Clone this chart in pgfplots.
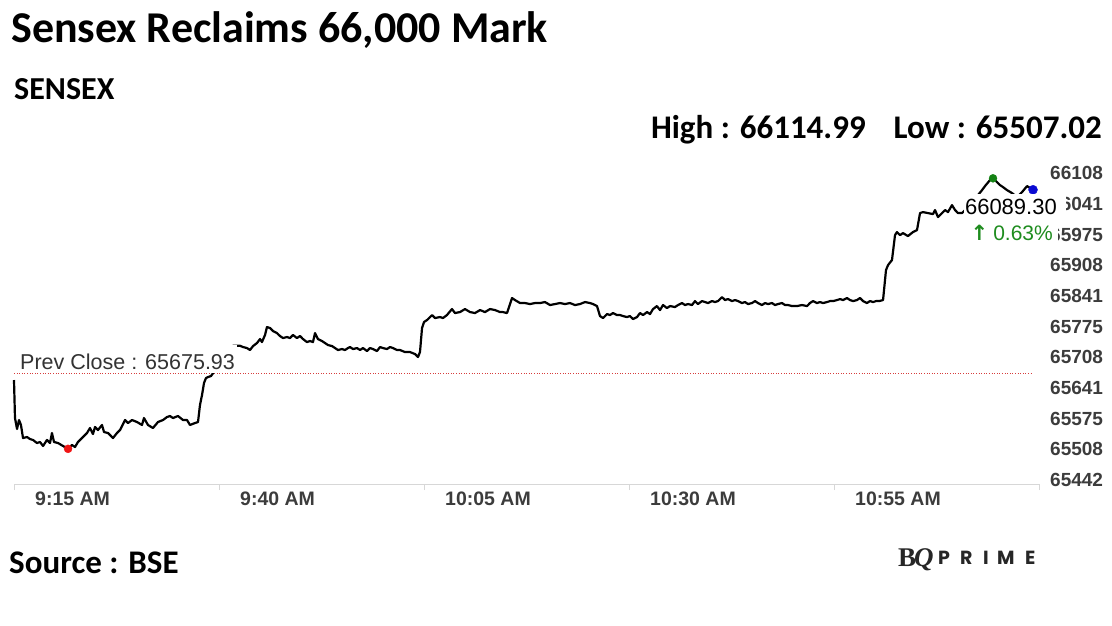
\documentclass[border=0pt]{standalone}
\usepackage{pgfplots}
\pgfplotsset{compat=1.18}
\usepackage{fontspec}
\setmainfont{Carlito}
\newfontfamily\arialf{Liberation Sans}
\newfontfamily\poppins{Poppins}
\newfontfamily\timesf{Liberation Serif}
\newfontfamily\dejavu{DejaVu Sans}
\definecolor{tickgray}{RGB}{60,60,60}
\definecolor{upgreen}{RGB}{30,140,30}
\definecolor{prevred}{RGB}{215,60,60}
\definecolor{axgray}{RGB}{215,215,215}
\definecolor{lowred}{RGB}{240,20,20}
\definecolor{highgreen}{RGB}{20,130,20}
\definecolor{lastblue}{RGB}{10,10,210}
\begin{document}
\begin{tikzpicture}
\path[use as bounding box] (0,0) rectangle (1112pt,625pt);
\begin{axis}[
  at={(14pt,141pt)}, anchor=south west,
  scale only axis, width=1025pt, height=320.9pt,
  xmin=0, xmax=125, ymin=65428, ymax=66149.2,
  scaled y ticks=false, scaled x ticks=false,
  axis x line*=bottom, axis y line*=right,
  x axis line style={draw=axgray, line width=1pt},
  y axis line style={draw=none},
  xtick={0,25,50,75,100,125},
  xticklabels={9:15 AM,9:40 AM,10:05 AM,10:30 AM,10:55 AM,{}},
  ytick={65437.0,65506.0,65575.0,65643.9,65712.9,65781.9,65850.8,65919.8,65988.8,66057.7,66126.7},
  yticklabels={65442,65508,65575,65641,65708,65775,65841,65908,65975,66041,66108},
  ytick style={draw=none},
  xtick style={draw=axgray, line width=1pt},
  major tick length=6pt, tick align=outside,
  xticklabel style={font=\arialf\bfseries\fontsize{19.5}{21}\selectfont, text=tickgray, anchor=north west, xshift=21pt, inner sep=0pt, yshift=-2pt},
  yticklabel style={font=\arialf\bfseries\fontsize{19}{21}\selectfont, text=tickgray, anchor=west, inner sep=0pt, xshift=5pt},
  clip=false,
]
\addplot[prevred, line width=1.1pt, dash pattern=on 1pt off 1.6pt] coordinates {(0,65675.93) (124.27,65675.93)};
\addplot[black, line width=2.2pt, line join=round] coordinates {
(0,65661.7) (0.12,65576.3) (0.37,65551.6) (0.61,65571.8) (0.85,65560.6) (1.10,65531.3) (1.59,65533.6) (1.95,65529.1) (2.32,65526.9) (2.80,65520.1) (3.17,65522.4) (3.54,65513.4) (4.02,65526.9) (4.39,65520.1) (4.63,65542.6) (4.88,65522.4) (5.37,65520.1) (5.98,65513.4) (6.59,65507.02) (7.07,65515.6) (7.44,65511.1) (7.80,65522.4) (8.41,65533.6) (8.90,65542.6) (9.27,65553.8) (9.63,65540.3) (9.88,65556.1) (10.24,65549.3) (10.73,65560.6) (10.98,65544.8) (11.46,65542.6) (12.07,65531.3) (12.56,65542.6) (12.93,65549.3) (13.54,65571.8) (13.90,65565.0) (14.39,65571.8) (15.00,65567.3) (15.61,65560.6) (15.85,65576.3) (16.34,65560.6) (16.95,65553.8) (17.56,65567.3) (18.17,65571.8) (18.66,65578.5) (19.02,65580.8) (19.39,65576.3) (20.00,65580.8) (20.61,65571.8) (21.10,65571.8) (21.46,65560.6) (22.07,65565.0) (22.44,65567.3) (22.68,65605.5) (22.93,65628.0) (23.17,65654.9) (23.41,65666.1) (23.66,65668.4) (24.02,65670.6)
(26.71,65738.7) (27.56,65738.7) (27.93,65735.8) (28.41,65733.5) (28.78,65729.1) (29.15,65738.0) (29.63,65744.8) (30.00,65753.8) (30.24,65747.0) (30.61,65762.8) (30.85,65780.7) (31.22,65778.5) (31.59,65771.7) (32.07,65767.2) (32.44,65760.5) (32.80,65756.0) (33.29,65758.3) (33.66,65756.0) (34.02,65762.8) (34.51,65756.0) (34.88,65760.5) (35.24,65753.8) (35.73,65747.0) (36.10,65749.3) (36.46,65747.0) (36.71,65767.2) (37.07,65753.8) (37.56,65749.3) (37.93,65744.8) (38.29,65740.3) (38.78,65738.0) (39.15,65733.5) (39.51,65729.1) (40.00,65731.3) (40.37,65729.1) (40.73,65733.5) (40.98,65735.8) (41.34,65731.3) (41.83,65733.5) (42.20,65729.1) (42.56,65733.5) (43.05,65726.8) (43.41,65733.5) (43.78,65731.3) (44.27,65726.8) (44.63,65735.8) (45.00,65733.5) (45.49,65731.3) (45.85,65735.8) (46.22,65733.5) (46.71,65729.1) (47.07,65729.1) (47.68,65724.6) (48.29,65724.6) (48.90,65720.1) (49.27,65713.3) (49.51,65724.6) (49.76,65778.5) (50.00,65792.0) (50.37,65796.5)
(50.98,65807.7) (51.34,65801.0) (51.95,65803.2) (52.32,65801.0) (52.80,65807.7) (53.41,65821.2) (53.78,65812.2) (54.39,65814.4) (55.00,65821.2) (55.61,65814.4) (56.22,65812.2) (56.83,65818.9) (57.44,65814.4) (58.05,65821.2) (58.66,65818.9) (59.27,65814.4) (59.63,65814.4) (60.12,65812.2) (60.73,65845.9) (61.10,65841.4) (61.71,65834.7) (62.32,65834.7) (62.93,65832.4) (63.54,65834.7) (64.15,65834.7) (64.76,65836.9) (65.37,65830.2) (65.98,65832.4) (66.59,65834.7) (67.20,65832.4) (67.80,65834.7) (68.41,65830.2) (69.02,65832.4) (69.63,65836.9)
(70.24,65834.7) (70.61,65832.4) (71.10,65827.9) (71.46,65805.4) (71.83,65801.0) (72.32,65809.9) (72.68,65807.7) (73.05,65812.2) (73.54,65807.7) (73.90,65807.7) (74.27,65805.4) (74.76,65803.2) (75.12,65805.4) (75.49,65798.7) (75.98,65803.2) (76.34,65812.2) (76.71,65807.7) (77.20,65814.4) (77.56,65809.9) (77.93,65821.2) (78.41,65827.9) (78.78,65818.9) (79.15,65830.2) (79.63,65823.4) (80.00,65827.9) (80.61,65825.7) (80.98,65830.2) (81.46,65834.7) (81.83,65830.2) (82.20,65832.4) (82.68,65830.2) (83.05,65839.1) (83.41,65832.4) (83.90,65839.1) (84.27,65836.9) (84.63,65834.7) (85.12,65839.1) (85.49,65836.9) (85.85,65839.1) (86.34,65848.1) (86.71,65841.4) (87.07,65843.6) (87.56,65839.1) (87.93,65841.4) (88.29,65839.1) (88.78,65834.7) (89.15,65836.9) (89.51,65832.4) (90.00,65834.7) (90.37,65839.1) (90.73,65834.7) (91.22,65830.2) (91.59,65834.7) (91.95,65832.4) (92.44,65834.7) (92.80,65830.2) (93.17,65832.4) (93.66,65834.7) (94.02,65830.2) (94.39,65830.2) (94.88,65827.9) (95.49,65827.9) (96.10,65830.2) (96.71,65827.9) (97.07,65834.7) (97.44,65839.1) (97.93,65834.7) (98.29,65836.9) (98.66,65834.7) (99.15,65836.9) (99.51,65839.1) (99.88,65839.1) (100.37,65841.4) (100.73,65843.6) (101.10,65841.4) (101.59,65845.9) (101.95,65841.4) (102.32,65839.1) (102.80,65841.4) (103.17,65845.9) (103.54,65839.1) (104.02,65834.7) (104.39,65839.1) (104.76,65836.9) (105.12,65839.1) (105.49,65839.1) (105.98,65841.4) (106.10,65863.9)
(106.34,65908.8) (106.59,65920.0) (107.07,65931.3) (107.44,65987.4) (107.68,65994.2) (108.05,65987.4) (108.41,65991.9) (109.02,65985.2) (109.63,65994.2) (110.12,65998.7) (110.49,66036.9) (110.85,66039.1) (111.46,66036.9) (112.07,66034.6) (112.32,66043.6) (112.68,66027.9) (113.17,66036.9) (113.54,66043.6) (113.90,66039.1) (114.39,66054.8) (114.76,66043.6) (115.12,66036.9) (115.61,66036.9) (116.34,66050.0) (116.95,66066.0) (117.56,66077.3) (118.05,66088.5) (118.41,66097.5) (119.02,66111.0) (119.39,66114.99) (119.88,66106.5) (120.24,66099.8) (120.61,66095.3) (121.10,66088.5) (121.71,66081.8) (122.32,66072.8) (122.93,66084.0) (123.54,66097.5) (124.27,66089.30)
};
\addplot[only marks, mark=*, mark size=4pt, color=lowred] coordinates {(6.59,65507.02)};
\addplot[only marks, mark=*, mark size=4pt, color=highgreen] coordinates {(119.39,66114.99)};
\addplot[only marks, mark=*, mark size=4.5pt, color=lastblue] coordinates {(124.27,66089.30)};
\end{axis}
% label boxes
\fill[white] (15pt,252pt) rectangle (237pt,280pt);
\node[anchor=base west, inner sep=0pt, text=black!80, font=\arialf\fontsize{21.5}{24}\selectfont] at (20pt,255.5pt) {Prev Close : 65675.93};
\fill[white] (964pt,404pt) rectangle (1066pt,431pt);
\node[anchor=base east, inner sep=0pt, font=\arialf\fontsize{22}{24}\selectfont] at (1057pt,410.7pt) {66089.30};
\fill[white] (970pt,378pt) rectangle (1058pt,403pt);
\node[anchor=base east, inner sep=0pt, text=upgreen, font=\arialf\fontsize{21}{24}\selectfont] at (1053pt,384pt) {{\dejavu\bfseries ↑}\hspace{5pt}0.63\%};
% titles
\node[anchor=base west, inner sep=0pt, font=\bfseries\fontsize{44}{50}\selectfont] at (11pt,582.5pt) {Sensex Reclaims 66,000 Mark};
\node[anchor=base west, inner sep=0pt, font=\bfseries\fontsize{32}{36}\selectfont] at (14pt,525pt) {SENSEX};
\node[anchor=base east, inner sep=0pt, font=\bfseries\fontsize{33}{36}\selectfont] at (1102pt,486pt) {High : 66114.99\hspace{28pt}Low : 65507.02};
\node[anchor=base west, inner sep=0pt, font=\bfseries\fontsize{33}{36}\selectfont] at (9pt,52pt) {Source : BSE};
% logo
\node[anchor=base west, inner sep=0pt, text=black!85, font=\timesf\bfseries\fontsize{27}{30}\selectfont] at (898pt,59pt) {B\hspace{-2pt}\textit{Q}};
\begin{scope}[every node/.style={anchor=base west, inner sep=0pt, text=black!85, font=\poppins\bfseries\fontsize{19}{22}\selectfont}]
\node at (938pt,61pt) {P};
\node at (960pt,61pt) {R};
\node at (983pt,61pt) {I};
\node at (997pt,61pt) {M};
\node at (1025pt,61pt) {E};
\end{scope}
\end{tikzpicture}
\end{document}
